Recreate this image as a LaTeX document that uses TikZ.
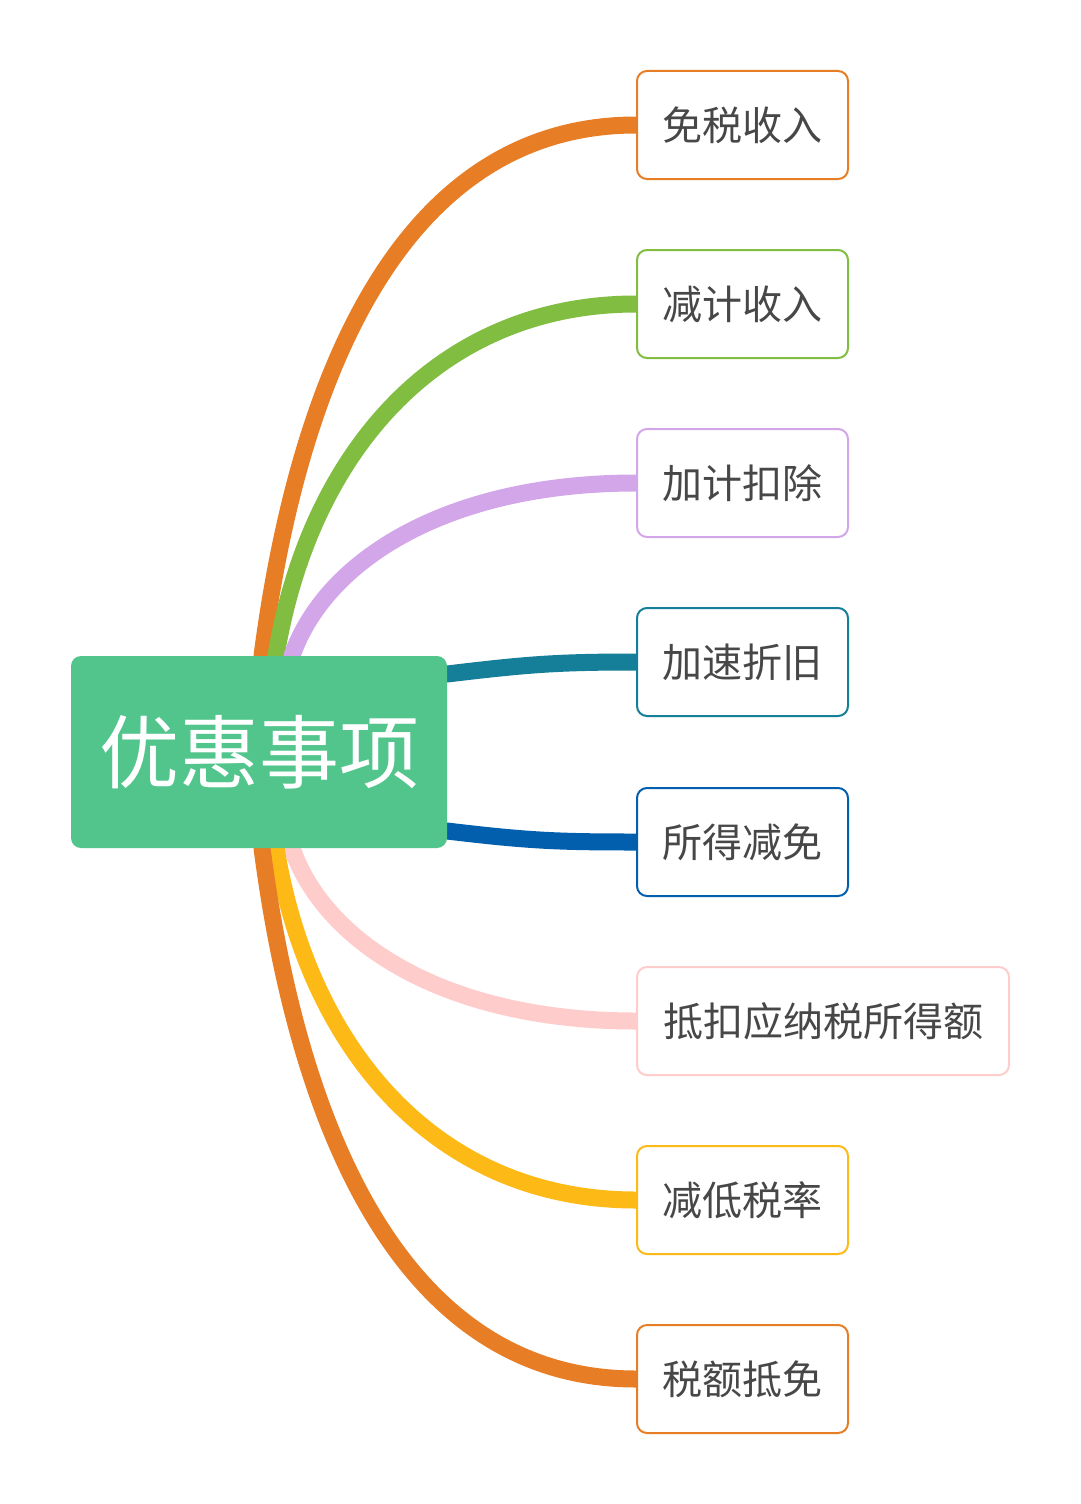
\documentclass[tikz,border=0pt]{standalone}
\usepackage{fontspec}
\newfontfamily\cjk{Noto Sans CJK SC}
\usetikzlibrary{backgrounds}
\definecolor{corange}{HTML}{E77D25}
\definecolor{cgreen}{HTML}{81BD41}
\definecolor{cpurple}{HTML}{D3A6E9}
\definecolor{cteal}{HTML}{157E98}
\definecolor{cblue}{HTML}{015FAD}
\definecolor{cpink}{HTML}{FFCCCC}
\definecolor{cyellow}{HTML}{FDB916}
\definecolor{ccentral}{HTML}{52C58D}
\definecolor{textgray}{HTML}{474747}
\begin{document}
\begin{tikzpicture}[x=1pt,y=-1pt,
  leaf/.style={rectangle, rounded corners=10pt, fill=white, line width=2pt,
    minimum width=211pt, minimum height=108pt, inner sep=0pt, text=textgray,
    font=\cjk\fontsize{40pt}{48pt}\selectfont},
  rootbox/.style={rectangle, rounded corners=10pt, fill=ccentral,
    minimum width=376pt, minimum height=192pt, inner sep=0pt, text=white,
    font=\cjk\fontsize{80pt}{96pt}\selectfont},
  branch/.style={line width=17pt, line cap=round}]
\useasboundingbox (0,0) rectangle (1080,1504);

\node[rootbox] (c) at (259,752) {优惠事项};

\node[leaf, draw=corange]  (b1) at (742.5,125)  {免税收入};
\node[leaf, draw=cgreen]   (b2) at (742.5,304)  {减计收入};
\node[leaf, draw=cpurple]  (b3) at (742.5,483)  {加计扣除};
\node[leaf, draw=cteal]    (b4) at (742.5,662)  {加速折旧};
\node[leaf, draw=cblue]    (b5) at (742.5,842)  {所得减免};
\node[leaf, draw=cpink, minimum width=372pt] (b6) at (823,1021) {抵扣应纳税所得额};
\node[leaf, draw=cyellow]  (b7) at (742.5,1200) {减低税率};
\node[leaf, draw=corange]  (b8) at (742.5,1379) {税额抵免};

\begin{pgfonlayer}{background}
\fill[white] (0,0) rectangle (1080,1504);
\draw[branch, corange] ([xshift=3pt]c.north) .. controls (298,380) and (400,125) .. (b1.west);
\draw[branch, cgreen]  ([xshift=17pt]c.north) .. controls (310,450) and (440,304) .. (b2.west);
\draw[branch, cpurple] ([xshift=33pt]c.north) .. controls (325,561) and (446,483) .. (b3.west);
\draw[branch, cteal]   ([yshift=78pt]c.east) .. controls (530,664) and (560,662) .. (b4.west);
\draw[branch, cblue]   ([yshift=-79pt]c.east) .. controls (530,841) and (560,842) .. (b5.west);
\draw[branch, cpink]   ([xshift=33pt]c.south) .. controls (325,943) and (446,1021) .. (b6.west);
\draw[branch, cyellow] ([xshift=17pt]c.south) .. controls (310,1054) and (440,1200) .. (b7.west);
\draw[branch, corange] ([xshift=3pt]c.south) .. controls (298,1124) and (400,1379) .. (b8.west);
\end{pgfonlayer}
\end{tikzpicture}
\end{document}
